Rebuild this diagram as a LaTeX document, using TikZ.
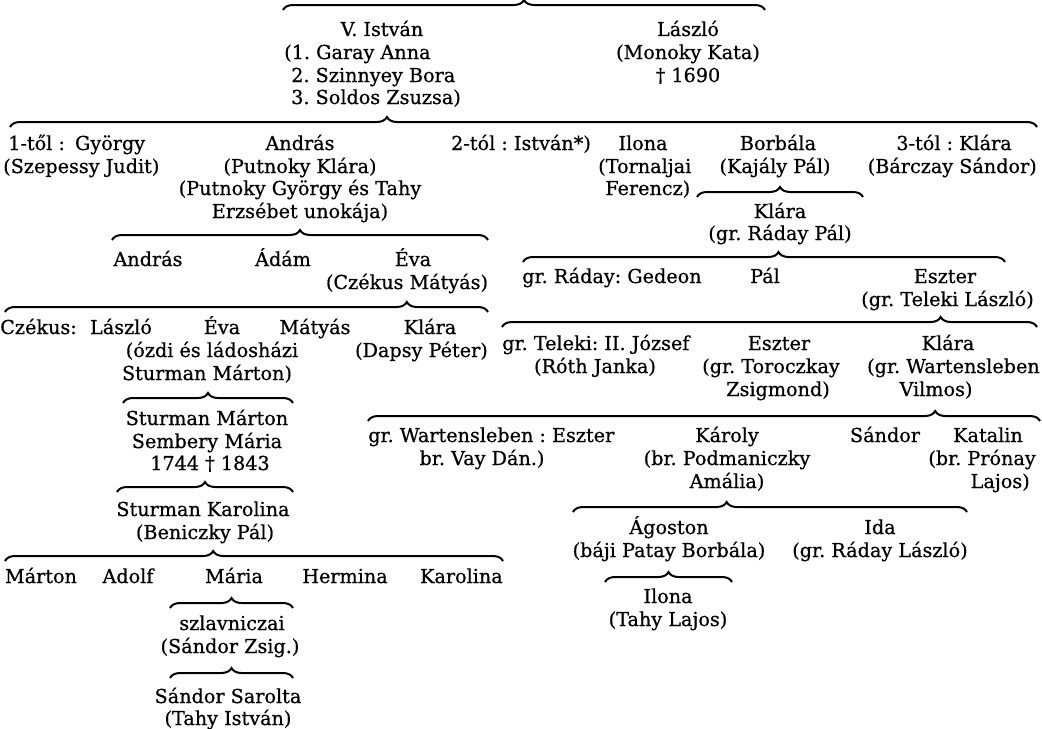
\documentclass[tikz,border=0pt]{standalone}
\usepackage{fontspec}
\setmainfont[FakeBold=0.6]{DejaVu Serif}
\usetikzlibrary{decorations.pathreplacing}
\newcommand{\gbrace}[5]{%
  \coordinate (#1a) at (#2,#4+5);
  \coordinate (#1b) at (#3,#4+5);
  \draw[brc=#5] (#1a) -- (#1b);}
\begin{document}
\frenchspacing
\begin{tikzpicture}[x=0.75pt,y=-0.75pt,
  lbl/.style={inner sep=0pt, anchor=base, font=\fontsize{14.4pt}{17pt}\selectfont\frenchspacing},
  lw/.style={lbl, anchor=base west},
  le/.style={lbl, anchor=base east},
  brc/.style={decorate, decoration={brace, amplitude=7.5pt, aspect=#1}, line width=1.5pt},
  brc/.default=0.5]
\fill[white] (0,0) rectangle (1042,728);
\useasboundingbox (0,0) rectangle (1042,728);

% generation 1
\gbrace{t1}{283}{765}{5}{0.5}
\node[lbl] (vi1) at (382,36) {V. István};
\node[lw] (vi2) at (284,59) {(1. Garay Anna};
\node[lw] (vi3) at (291,82) {2. Szinnyey Bora};
\node[lw] (vi4) at (291,104) {3. Soldos Zsuzsa)};
\node[lbl] (la1) at (688,36) {László};
\node[lbl] (la2) at (688,59) {(Monoky Kata)};
\node[lbl] (la3) at (688,82) {† 1690};

% generation 2
\gbrace{t2}{10}{1037}{122}{0.367}
\node[lw] (gy1) at (8,150) {1-től :\hspace{3pt} György};
\node[lw] (gy2) at (3,173) {(Szepessy Judit)};
\node[lbl] (an1) at (300,150) {András};
\node[lbl] (an2) at (300,173) {(Putnoky Klára)};
\node[lbl] (an3) at (300,195) {(Putnoky György és Tahy};
\node[lbl] (an4) at (300,218) {Erzsébet unokája)};
\node[lbl] (is1) at (521,150) {2-tól : István*)};
\node[lbl] (il1) at (643,150) {Ilona};
\node[lw] (il2) at (598,173) {(Tornaljai};
\node[lw] (il3) at (605,195) {Ferencz)};
\node[lbl] (bo1) at (778,150) {Borbála};
\node[lbl] (bo2) at (775,173) {(Kajály Pál)};
\node[le] (kl1) at (1012,150) {3-tól : Klára};
\node[le] (kl2) at (1037,173) {(Bárczay Sándor)};

% right branch
\gbrace{t3}{697}{863}{192}{0.5}
\node[lbl] (kr1) at (780,218) {Klára};
\node[lbl] (kr2) at (780,240) {(gr. Ráday Pál)};
\gbrace{t4}{523}{1005}{257}{0.53}
\node[lw] (ge1) at (522,283) {gr. Ráday: Gedeon};
\node[lbl] (pa1) at (765,283) {Pál};
\node[lbl] (es1) at (945,283) {Eszter};
\node[le] (es2) at (1034,306) {(gr. Teleki László)};
\gbrace{t5}{502}{1037}{322}{0.82}
\node[lw] (jo1) at (502,350) {gr. Teleki: II. József};
\node[lbl] (jo2) at (595,373) {(Róth Janka)};
\node[lbl] (et1) at (779,350) {Eszter};
\node[lbl] (et2) at (771,373) {(gr. Toroczkay};
\node[lbl] (et3) at (778,396) {Zsigmond)};
\node[lbl] (kw1) at (948,350) {Klára};
\node[le] (kw2) at (1040,373) {(gr. Wartensleben};
\node[lbl] (kw3) at (936,396) {Vilmos)};
\gbrace{t6}{368}{1040}{416}{0.844}
\node[lw] (we1) at (368,442) {gr. Wartensleben : Eszter};
\node[lbl] (we2) at (482,465) {br. Vay Dán.)};
\node[lbl] (ka1) at (727,442) {Károly};
\node[lbl] (ka2) at (727,465) {(br. Podmaniczky};
\node[lbl] (ka3) at (727,488) {Amália)};
\node[lbl] (sa1) at (885,442) {Sándor};
\node[lbl] (kt1) at (988,442) {Katalin};
\node[le] (kt2) at (1036,465) {(br. Prónay};
\node[le] (kt3) at (1030,488) {Lajos)};
\gbrace{t7}{573}{967}{507}{0.39}
\node[lbl] (ag1) at (669,534) {Ágoston};
\node[lbl] (ag2) at (669,557) {(báji Patay Borbála)};
\node[lbl] (id1) at (880,534) {Ida};
\node[lbl] (id2) at (880,557) {(gr. Ráday László)};
\gbrace{t8}{605}{732}{577}{0.5}
\node[lbl] (io1) at (668,603) {Ilona};
\node[lbl] (io2) at (668,626) {(Tahy Lajos)};

% left branch
\gbrace{ta}{112}{488}{235}{0.5}
\node[lbl] (ca1) at (148,266) {András};
\node[lbl] (ad1) at (283,266) {Ádám};
\node[lbl] (ev1) at (413,266) {Éva};
\node[lbl] (ev2) at (407,289) {(Czékus Mátyás)};
\gbrace{tb}{5}{488}{307}{0.832}
\node[lw] (cz1) at (0,334) {Czékus:\hspace{10pt}László};
\node[lbl] (ce1) at (222,334) {Éva};
\node[lbl] (ce2) at (212,357) {(ózdi és ládosházi};
\node[lbl] (ce3) at (207,380) {Sturman Márton)};
\node[lbl] (cm1) at (315,334) {Mátyás};
\node[lbl] (ck1) at (430,334) {Klára};
\node[le] (ck2) at (488,357) {(Dapsy Péter)};
\gbrace{tc}{123}{293}{398}{0.5}
\node[lbl] (sm1) at (207,425) {Sturman Márton};
\node[lbl] (sm2) at (207,448) {Sembery Mária};
\node[lbl] (sm3) at (210,470) {1744 † 1843};
\gbrace{td}{117}{293}{487}{0.5}
\node[lbl] (sk1) at (203,516) {Sturman Karolina};
\node[lbl] (sk2) at (205,539) {(Beniczky Pál)};
\gbrace{te}{5}{503}{556}{0.418}
\node[lbl] (c1) at (41,583) {Márton};
\node[lbl] (c2) at (128,583) {Adolf};
\node[lbl] (c3) at (234,583) {Mária};
\node[lbl] (c4) at (345,583) {Hermina};
\node[le] (c5) at (503,583) {Karolina};
\gbrace{tf}{170}{293}{603}{0.5}
\node[lbl] (sz1) at (232,630) {szlavniczai};
\node[lbl] (sz2) at (230,653) {(Sándor Zsig.)};
\gbrace{tg}{170}{293}{673}{0.5}
\node[lbl] (ss1) at (228,703) {Sándor Sarolta};
\node[lbl] (ss2) at (228,725) {(Tahy István)};
\end{tikzpicture}
\end{document}
